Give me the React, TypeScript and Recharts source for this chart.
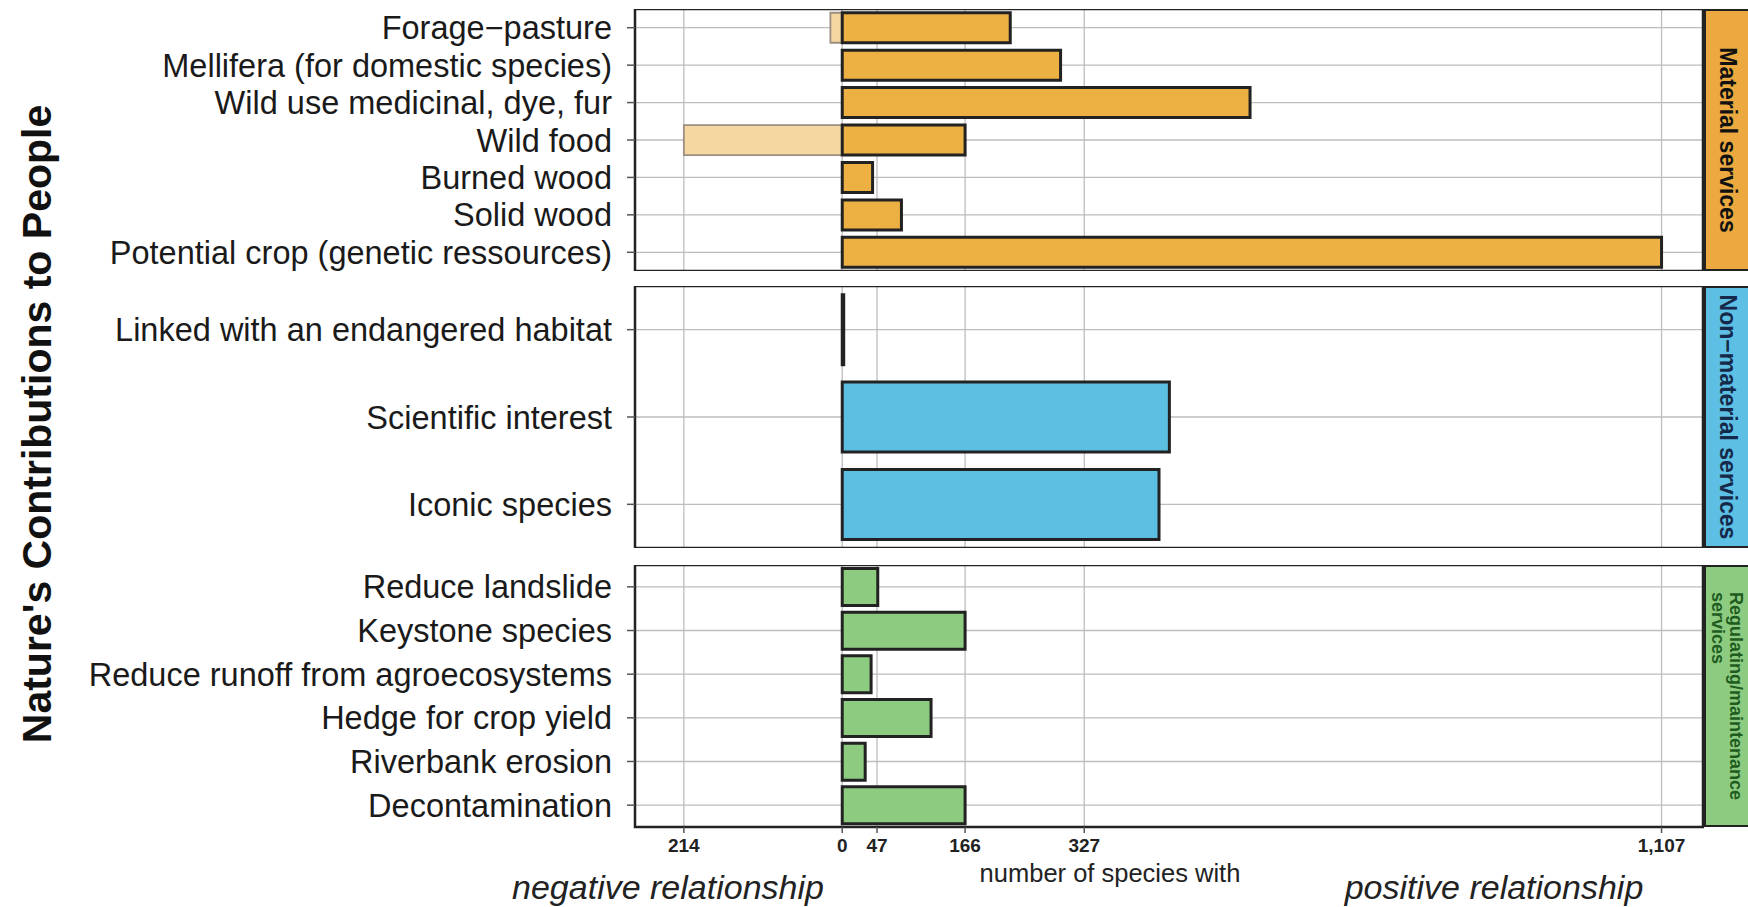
import { BarChart, Bar, XAxis, YAxis, CartesianGrid, ReferenceArea } from "recharts";

const materialNames = [
  "Forage−pasture",
  "Mellifera (for domestic species)",
  "Wild use medicinal, dye, fur",
  "Wild food",
  "Burned wood",
  "Solid wood",
  "Potential crop (genetic ressources)",
];
const materialPositive = [227, 295, 551, 166, 41, 80, 1107];
const materialNegative = [-16, 0, 0, -214, 0, 0, 0];

const nonMaterialNames = [
  "Linked with an endangered habitat",
  "Scientific interest",
  "Iconic species",
];
const nonMaterialPositive = [2, 442, 428];
const nonMaterialNegative = [0, 0, 0];

const regulatingNames = [
  "Reduce landslide",
  "Keystone species",
  "Reduce runoff from agroecosystems",
  "Hedge for crop yield",
  "Riverbank erosion",
  "Decontamination",
];
const regulatingPositive = [48, 166, 39, 120, 31, 166];
const regulatingNegative = [0, 0, 0, 0, 0, 0];

const xTicks = [-214, 0, 47, 166, 327, 1107];
const xDomain: [number, number] = [-280, 1163];

const FONT = "'Liberation Sans', Arial, sans-serif";
const PLOT_H = 262;

type PanelProps = {
  names: string[];
  pos: number[];
  neg: number[];
  top: number;
  fill: string;
  gap: string;
  showAxis?: boolean;
};

const Panel = ({ names, pos, neg, top, fill, gap, showAxis }: PanelProps) => {
  const data = names.map((name, i) => ({ name, neg: neg[i], pos: pos[i] }));
  const axisH = showAxis ? 40 : 0;
  return (
    <div style={{ position: "absolute", left: 0, top }}>
      <BarChart
        width={1704}
        height={PLOT_H + axisH}
        data={data}
        layout="vertical"
        stackOffset="sign"
        barCategoryGap={gap}
        margin={{ top: 0, right: 1, bottom: 0, left: 0 }}
      >
        <CartesianGrid stroke="#bdbdbd" strokeWidth={1.3} />
        <XAxis
          type="number"
          domain={xDomain}
          ticks={xTicks}
          allowDataOverflow
          hide={!showAxis}
          height={axisH}
          axisLine={false}
          tickSize={6}
          tickMargin={6}
          tickLine={{ stroke: "#555", strokeWidth: 1.5 }}
          tick={{ fontSize: 19, fontWeight: "bold", fill: "#222", fontFamily: FONT }}
          tickFormatter={(v: number) => Math.abs(v).toLocaleString("en-US")}
        />
        <YAxis
          type="category"
          dataKey="name"
          width={635}
          interval={0}
          tickSize={8}
          tickMargin={15}
          axisLine={false}
          tickLine={{ stroke: "#555", strokeWidth: 1.5 }}
          tick={{ fontSize: 32.5, fill: "#1a1a1a", fontFamily: FONT }}
        />
        <Bar
          dataKey="neg"
          stackId="s"
          fill="#f5d7a2"
          stroke="#9a8f80"
          strokeWidth={1.8}
          isAnimationActive={false}
        />
        <Bar
          dataKey="pos"
          stackId="s"
          fill={fill}
          stroke="#222"
          strokeWidth={3}
          isAnimationActive={false}
        />
        <ReferenceArea
          x1={xDomain[0]}
          x2={xDomain[1]}
          fill="none"
          stroke="#222"
          strokeWidth={2.5}
          ifOverflow="visible"
        />
      </BarChart>
    </div>
  );
};

const Strip = ({
  top,
  bg,
  color,
  lines,
  size,
}: {
  top: number;
  bg: string;
  color: string;
  lines: string[];
  size: number;
}) => (
  <div
    style={{
      position: "absolute",
      left: 1704,
      top,
      width: 44,
      height: PLOT_H,
      background: bg,
      borderLeft: "2.5px solid #222",
      borderTop: "2.5px solid #222",
      borderBottom: "2.5px solid #222",
      boxSizing: "border-box",
      overflow: "hidden",
    }}
  >
    <div
      style={{
        position: "absolute",
        left: "50%",
        top: "50%",
        transform: "translate(-50%, -50%)",
        writingMode: "vertical-rl",
        whiteSpace: "nowrap",
        fontFamily: FONT,
        fontWeight: "bold",
        fontSize: size,
        lineHeight: `${size}px`,
        color,
      }}
    >
      {lines.map((l, i) => (
        <div key={i}>{l}</div>
      ))}
    </div>
  </div>
);

const App = () => (
  <div
    style={{
      position: "absolute",
      left: 0,
      top: 0,
      width: 1748,
      height: 907,
      overflow: "hidden",
      background: "#fff",
      fontFamily: FONT,
    }}
  >
    <Panel names={materialNames} pos={materialPositive} neg={materialNegative} top={9} fill="#edb043" gap="10%" />
    <Panel names={nonMaterialNames} pos={nonMaterialPositive} neg={nonMaterialNegative} top={286} fill="#5cbfe2" gap="10%" />
    <Panel names={regulatingNames} pos={regulatingPositive} neg={regulatingNegative} top={565} fill="#8dcc80" gap="8%" showAxis />

    <Strip top={9} bg="#eba93f" color="#111" lines={["Material services"]} size={23} />
    <Strip top={286} bg="#5dbfe3" color="#15294a" lines={["Non−material services"]} size={23} />
    <Strip top={565} bg="#8dcc80" color="#1f5c1f" lines={["Regulating/maintenance", "services"]} size={18} />

    <div
      style={{
        position: "absolute",
        left: 37,
        top: 424,
        transform: "translate(-50%, -50%) rotate(-90deg)",
        whiteSpace: "nowrap",
        fontSize: 41,
        fontWeight: "bold",
        color: "#111",
      }}
    >
      Nature's Contributions to People
    </div>
    <div
      style={{
        position: "absolute",
        left: 1110,
        top: 873,
        transform: "translate(-50%, -50%)",
        whiteSpace: "nowrap",
        fontSize: 25.5,
        color: "#222",
      }}
    >
      number of species with
    </div>
    <div
      style={{
        position: "absolute",
        left: 668,
        top: 887,
        transform: "translate(-50%, -50%)",
        whiteSpace: "nowrap",
        fontSize: 34,
        fontStyle: "italic",
        color: "#222",
      }}
    >
      negative relationship
    </div>
    <div
      style={{
        position: "absolute",
        left: 1494,
        top: 887,
        transform: "translate(-50%, -50%)",
        whiteSpace: "nowrap",
        fontSize: 34,
        fontStyle: "italic",
        color: "#222",
      }}
    >
      positive relationship
    </div>
  </div>
);

export default App;
